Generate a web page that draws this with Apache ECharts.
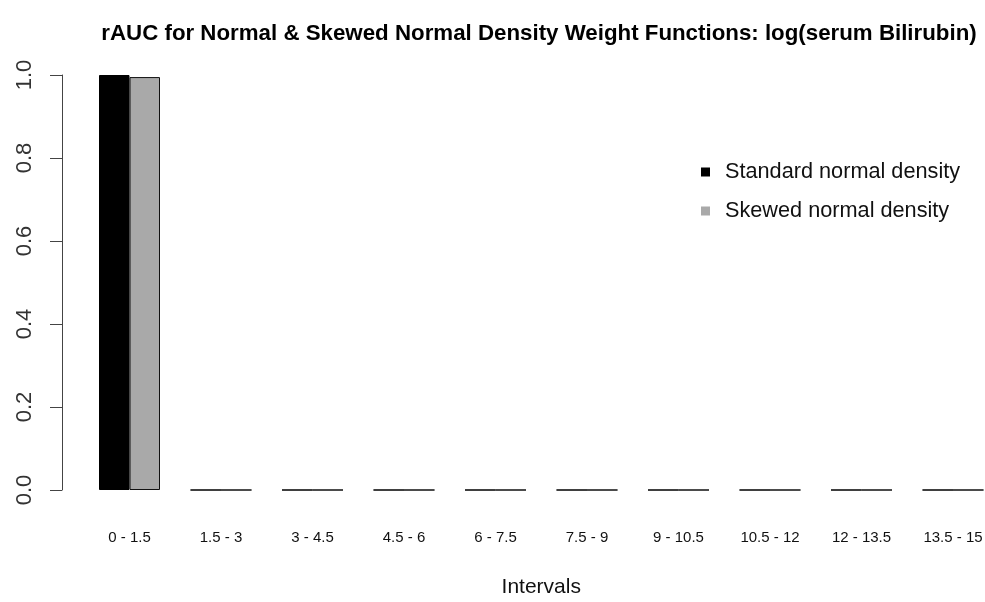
<!DOCTYPE html>
<html>
<head>
<meta charset="utf-8">
<script src="https://cdn.jsdelivr.net/npm/echarts@6/dist/echarts.min.js"></script>
<style>html,body{margin:0;padding:0;background:#fff;}#c{width:985px;height:602px;}</style>
</head>
<body>
<div id="c"></div>
<script>
const categories = ['0 - 1.5','1.5 - 3','3 - 4.5','4.5 - 6','6 - 7.5','7.5 - 9','9 - 10.5','10.5 - 12','12 - 13.5','13.5 - 15'];
const standardNormal = [1.0, 0, 0, 0, 0, 0, 0, 0, 0, 0];
const skewedNormal = [0.995, 0, 0, 0, 0, 0, 0, 0, 0, 0];
const yTicks = [0, 0.2, 0.4, 0.6, 0.8, 1.0];

const FONT = '"Liberation Sans", Arial, sans-serif';
const chart = echarts.init(document.getElementById('c'), null, {renderer: 'canvas'});
chart.setOption({
  animation: false,
  backgroundColor: '#fff',
  title: {
    text: 'rAUC for Normal & Skewed Normal Density Weight Functions: log(serum Bilirubin)',
    left: 534, top: 18, textAlign: 'center',
    textStyle: {fontFamily: FONT, fontWeight: 'bold', fontSize: 22.3, color: '#000'}
  },
  legend: {
    orient: 'vertical', left: 696, top: 156,
    icon: 'rect', itemWidth: 9, itemHeight: 9, itemGap: 17,
    itemStyle: {borderWidth: 0},
    textStyle: {fontFamily: FONT, fontSize: 21.7, color: '#111', padding: [0,0,0,10]},
    data: ['Standard normal density', 'Skewed normal density']
  },
  grid: {left: 83.75, width: 915, top: 75, height: 415, outerBoundsMode: 'none', containLabel: false},
  xAxis: {
    type: 'category', data: categories,
    axisLine: {show: false}, axisTick: {show: false},
    axisLabel: {fontFamily: FONT, fontSize: 15, color: '#111', margin: 40, interval: 0},
    name: 'Intervals', nameLocation: 'middle', nameGap: 87,
    nameTextStyle: {fontFamily: FONT, fontSize: 21, color: '#111'}
  },
  yAxis: {
    type: 'value', min: 0, max: 1.0, interval: 0.2, offset: 21.75,
    splitLine: {show: false},
    axisLine: {show: true, lineStyle: {color: '#444', width: 1}},
    axisTick: {show: true, length: 12, lineStyle: {color: '#444', width: 1}},
    axisLabel: {fontFamily: FONT, fontSize: 22, color: '#333', rotate: 90, margin: 26,
      formatter: v => v.toFixed(1)}
  },
  series: [
    {name: 'Standard normal density', type: 'bar', data: standardNormal, barWidth: 30.5, barGap: '0%',
     itemStyle: {color: '#000', borderColor: '#000', borderWidth: 1}},
    {name: 'Skewed normal density', type: 'bar', data: skewedNormal, barWidth: 30.5, barGap: '0%',
     itemStyle: {color: '#a9a9a9', borderColor: '#111', borderWidth: 1}}
  ]
});
</script>
</body>
</html>
